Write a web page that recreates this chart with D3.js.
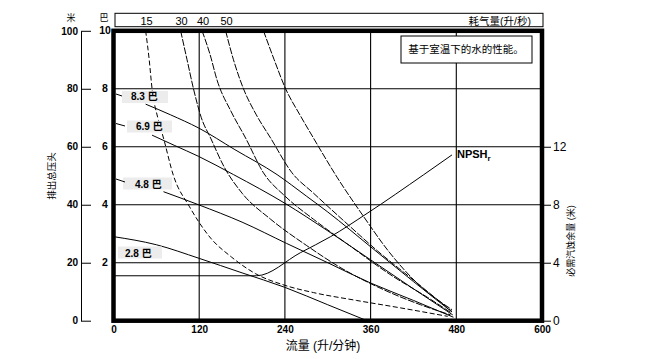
<!DOCTYPE html>
<html><head><meta charset="utf-8">
<script src="https://cdn.jsdelivr.net/npm/d3@7"></script>
<style>
body{margin:0;background:#fff;}
text{font-family:"Liberation Sans","Noto Sans CJK SC",sans-serif;fill:#000;}
</style></head>
<body><svg id="c" width="649" height="359"></svg>
<script>
// ---- data ----
const flowTicks = [0, 120, 240, 360, 480, 600];
const barTicks = [2, 4, 6, 8, 10];
const meterTicks = [0, 20, 40, 60, 80, 100];
const npshTicks = [0, 4, 8, 12];
// air consumption curves (flow L/min, head bar)
const airNames = ["15", "30", "40", "50", ""];
const air15 = [[45,10],[50,9],[54,8],[62,7],[70,6.3],[84,5.0],[106,3.95],[136,2.85],[165,2.2],[199,1.62],[240,1.22],[280,0.97],[340,0.7],[400,0.45],[468,0.15]];
const air30 = [[94,10],[103,9],[112,8],[123,7],[136,6.3],[155,5.3],[180,4.4],[220,3.5],[270,2.6],[320,1.8],[380,1.05],[430,0.55],[472,0.2]];
const air40 = [[124,10],[135,9.2],[145,8.3],[165,7.2],[185,6.3],[210,5.1],[240,4.3],[280,3.5],[330,2.6],[390,1.55],[440,0.8],[473,0.27]];
const air50 = [[157,10],[168,9],[182,8],[200,7.1],[220,6.3],[250,5.1],[280,4.4],[320,3.5],[370,2.4],[420,1.4],[474,0.32]];
const air60 = [[210,10],[225,9],[241,8],[261,7.1],[280,6.3],[313,4.95],[350,3.6],[385,2.4],[425,1.3],[474,0.38]];
// pressure curves
const pressNames = ["8.3 巴", "6.9 巴", "4.8 巴", "2.8 巴"];
const press83 = [[45,7.47],[80,7.1],[119,6.65],[170,5.9],[229,5.04],[270,4.3],[300,3.75],[360,2.55],[420,1.35],[474,0.3]];
const press69 = [[54,6.4],[85,6.05],[119,5.67],[168,5.04],[240,4.05],[300,3.1],[360,2.1],[420,1.1],[475,0.2]];
const press48 = [[70,4.45],[119,4.0],[180,3.4],[242,2.67],[300,2.0],[360,1.3],[420,0.7],[476,0.12]];
const press28 = [[0,2.9],[60,2.62],[120,2.15],[180,1.65],[240,1.15],[300,0.55],[355,0]];
// NPSHr (flow L/min, metres)
const npsh = [[0,3.1],[200,3.1],[262,4.7],[304,5.8],[355,7.4],[434,10.06],[474,11.44]];

// ---- chart ----
const svg = d3.select("#c");
const L = 113.5, R = 542, T = 30.8, B = 320.7;
const x = d3.scaleLinear().domain([0, 600]).range([L, R]);
const y = d3.scaleLinear().domain([0, 10]).range([B, T]);
const yM = d3.scaleLinear().domain([0, 100]).range([B, T]);
const yN = d3.scaleLinear().domain([0, 20]).range([B, T]);

// grid
svg.append("g").selectAll("line").data(flowTicks.filter(d => d > 0 && d < 600)).join("line")
  .attr("x1", d => x(d)).attr("x2", d => x(d)).attr("y1", T).attr("y2", B)
  .attr("stroke", "#000").attr("stroke-width", 1.1);
svg.append("g").selectAll("line").data(barTicks.filter(d => d < 10)).join("line")
  .attr("x1", L).attr("x2", R).attr("y1", d => y(d)).attr("y2", d => y(d))
  .attr("stroke", "#000").attr("stroke-width", 1.1);

// top box (air consumption scale)
svg.append("rect").attr("x", 115).attr("y", 13.3).attr("width", 428).attr("height", 13.4)
  .attr("fill", "#fff").attr("stroke", "#000").attr("stroke-width", 1);
const airSets = [air15, air30, air40, air50, air60];
svg.append("g").selectAll("text").data(airSets.map((s, i) => ({f: s[0][0], n: airNames[i]})).filter(d => d.n)).join("text")
  .attr("x", d => x(d.f) + 1).attr("y", 25).attr("text-anchor", "middle")
  .attr("font-size", 11).text(d => d.n);
svg.append("text").attr("x", 531).attr("y", 24.5).attr("text-anchor", "end")
  .attr("font-size", 10.5).text("耗气量(升/秒)");

// curves
const line = d3.line().x(d => x(d[0])).y(d => y(d[1])).curve(d3.curveMonotoneX);
svg.append("g").selectAll("path").data(airSets).join("path")
  .attr("d", line).attr("fill", "none").attr("stroke", "#000").attr("stroke-width", 1)
  .attr("stroke-dasharray", (d, i) => i === 0 ? "5,2.5" : "7,1.5");
svg.append("g").selectAll("path").data([press83, press69, press48, press28]).join("path")
  .attr("d", line).attr("fill", "none").attr("stroke", "#000").attr("stroke-width", 1);
const nline = d3.line().x(d => x(d[0])).y(d => yN(d[1])).curve(d3.curveMonotoneX);
svg.append("path").datum(npsh).attr("d", nline).attr("fill", "none").attr("stroke", "#000").attr("stroke-width", 1);

// pressure labels
const lab = [
  {box: [122, 91, 46, 12], tx: 131, ty: 100, lead: [116, 94, 122, 96]},
  {box: [127, 120.5, 45, 12], tx: 136, ty: 130, lead: [116, 123.5, 125, 126]},
  {box: [123, 177.5, 49, 12], tx: 135, ty: 188, lead: [116, 179, 125, 182]},
  {box: [118, 246.5, 44, 12], tx: 125, ty: 257, lead: null}
];
lab.forEach((l, i) => {
  svg.append("rect").attr("x", l.box[0]).attr("y", l.box[1]).attr("width", l.box[2]).attr("height", l.box[3]).attr("fill", "#ececec");
  svg.append("text").attr("x", l.tx).attr("y", l.ty).attr("font-size", 10).attr("font-weight", "bold").text(pressNames[i]);
  if (l.lead) svg.append("line").attr("x1", l.lead[0]).attr("y1", l.lead[1]).attr("x2", l.lead[2]).attr("y2", l.lead[3]).attr("stroke", "#000");
});

// NPSH label
const nt = svg.append("text").attr("x", 457).attr("y", 157.5).attr("font-size", 11).attr("font-weight", "bold");
nt.append("tspan").text("NPSH");
nt.append("tspan").attr("font-size", 8).attr("dy", 3).text("r");

// legend note
svg.append("rect").attr("x", 401).attr("y", 36).attr("width", 131).attr("height", 27)
  .attr("fill", "#fff").attr("stroke", "#000").attr("stroke-width", 1);
svg.append("text").attr("x", 466).attr("y", 53).attr("text-anchor", "middle").attr("font-size", 10.5).text("基于室温下的水的性能。");

// frame
svg.append("rect").attr("x", L).attr("y", T).attr("width", R - L).attr("height", B - T)
  .attr("fill", "none").attr("stroke", "#000").attr("stroke-width", 4.5);

// outer left axis (metres)
const gM = svg.append("g").attr("transform", "translate(81,0)")
  .call(d3.axisLeft(yM).tickValues(meterTicks).tickSizeInner(-10).tickSizeOuter(0).tickPadding(3));
gM.selectAll("text").attr("font-size", 10).attr("font-weight", "bold").attr("font-family", "Liberation Sans");
gM.selectAll("line,path").attr("stroke", "#000");
svg.append("text").attr("x", 71).attr("y", 21).attr("text-anchor", "middle").attr("font-size", 9).text("米");

// inner bar labels
svg.append("g").selectAll("text").data(barTicks).join("text")
  .attr("x", 105).attr("y", d => y(d)).attr("dy", "0.3em").attr("text-anchor", "middle")
  .attr("font-size", 10.5).attr("font-weight", "bold").text(d => d);
svg.append("text").attr("x", 104).attr("y", 20.5).attr("text-anchor", "middle").attr("font-size", 9).text("巴");

// bottom axis
const gX = svg.append("g").attr("transform", `translate(0,${B})`)
  .call(d3.axisBottom(x).tickValues(flowTicks).tickSize(0).tickPadding(5));
gX.select(".domain").remove();
gX.selectAll("text").attr("font-size", 10).attr("font-weight", "bold").attr("font-family", "Liberation Sans");
svg.append("text").attr("x", 323).attr("y", 350).attr("text-anchor", "middle").attr("font-size", 12).text("流量 (升/分钟)");

// right axis (NPSH metres)
const gN = svg.append("g").attr("transform", "translate(544,0)")
  .call(d3.axisRight(yN).tickValues(npshTicks).tickSize(7).tickPadding(2));
gN.select(".domain").remove();
gN.selectAll("text").attr("font-size", 12).attr("font-family", "Liberation Sans");
gN.selectAll("line").attr("stroke", "#000");

// axis titles
svg.append("text").attr("transform", "translate(55,176) rotate(-90)").attr("text-anchor", "middle").attr("font-size", 9.5).text("排出总压头");
svg.append("text").attr("transform", "translate(574,241) rotate(-90)").attr("text-anchor", "middle").attr("font-size", 9).text("必需汽蚀余量 (米)");
</script></body></html>
